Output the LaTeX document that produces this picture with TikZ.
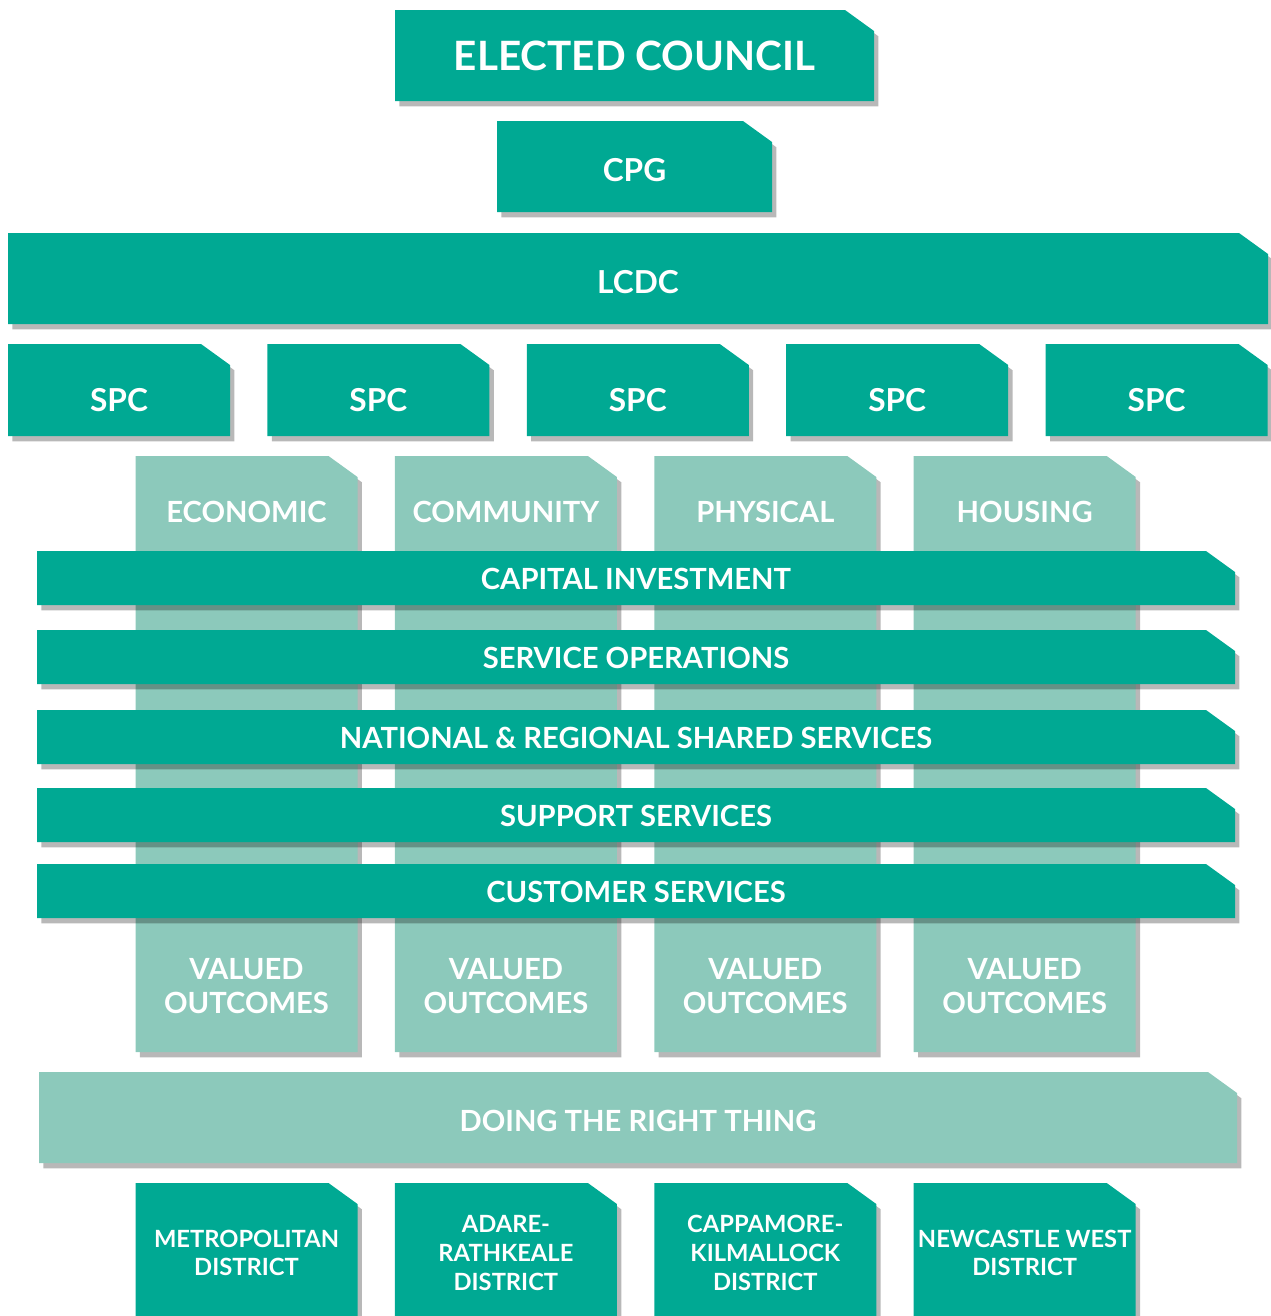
\documentclass[tikz,border=0pt]{standalone}
\usepackage{fontspec}
\setmainfont{Lato}
\usetikzlibrary{shadows}

\definecolor{tealdark}{RGB}{0,169,147}
\definecolor{teallight}{RGB}{140,201,187}
\newcommand\pxl{0.02cm}

% box with the top right corner cut off: [text style]{fill style}{name}{x}{y}{width}{height}{text}
\newcommand\tabbox[8][]{%
  \fill[#2] (#4-#6/2,#5+#7/2) |- (#4+#6/2-29,#5-#7/2) -- (#4+#6/2,#5-#7/2+21) |- cycle;
  \node[boxtext,#1] (#3) at (#4,#5) {#8};
}

\tikzset{
  darktab/.style={fill=tealdark, drop shadow={shadow xshift=2.5pt, shadow yshift=-3pt, opacity=0.28, fill=black}},
  lighttab/.style={fill=teallight, drop shadow={shadow xshift=2.5pt, shadow yshift=-3pt, opacity=0.28, fill=black}},
  boxtext/.style={text=white, align=center, inner sep=0pt, font=\bfseries\fontsize{16.6}{19.8}\selectfont},
  bigfont/.style={font=\bfseries\fontsize{23}{27}\selectfont},
  midfont/.style={font=\bfseries\fontsize{18}{21}\selectfont},
  smallfont/.style={font=\bfseries\fontsize{13.5}{16.4}\selectfont}
}

\begin{document}
\begin{tikzpicture}[x=\pxl, y=-\pxl]
\useasboundingbox (0,0) rectangle (1271,1316);
\clip (0,0) rectangle (1271,1316);

\tabbox[bigfont]{darktab}{council}{634.5}{55.5}{479}{91}{ELECTED COUNCIL}
\tabbox[midfont, yshift=-2.3pt]{darktab}{cpg}{634.5}{166.5}{275}{91}{CPG}
\tabbox[midfont, yshift=-2pt]{darktab}{lcdc}{638}{278.5}{1260}{91}{LCDC}

\foreach \i in {0,...,4} {
  \tabbox[midfont, yshift=-6pt]{darktab}{spc\i}{119+259.4*\i}{390}{222}{92}{SPC}
}

% strategic columns
\foreach \name/\lbl [count=\i from 0] in {eco/ECONOMIC, com/COMMUNITY, phy/PHYSICAL, hou/HOUSING} {
  \tabbox{lighttab}{\name}{246.5+259.4*\i}{754}{222}{596}{}
  \node[boxtext] (\name-top) at (246.5+259.4*\i,512) {\lbl};
  \node[boxtext] (\name-out) at (246.5+259.4*\i,986) {VALUED\\OUTCOMES};
}

% service bands
\foreach \name/\y/\lbl in {cap/578/CAPITAL INVESTMENT, ser/657/SERVICE OPERATIONS,
    nat/737/NATIONAL \& REGIONAL SHARED SERVICES, sup/815/SUPPORT SERVICES,
    cus/891/CUSTOMER SERVICES} {
  \tabbox[yshift=-0.6pt]{darktab}{\name}{636}{\y}{1198}{54}{\lbl}
}

\tabbox[yshift=-1.7pt]{lighttab}{right}{638}{1117.5}{1198}{91}{DOING THE RIGHT THING}

% districts
\foreach \name/\lbl [count=\i from 0] in {metro/METROPOLITAN\\DISTRICT, adare/ADARE-\\RATHKEALE\\DISTRICT,
    cappa/CAPPAMORE-\\KILMALLOCK\\DISTRICT, newc/NEWCASTLE WEST\\DISTRICT} {
  \tabbox[smallfont]{darktab}{\name}{246.5+259.4*\i}{1253}{222}{140}{\lbl}
}
\end{tikzpicture}
\end{document}
